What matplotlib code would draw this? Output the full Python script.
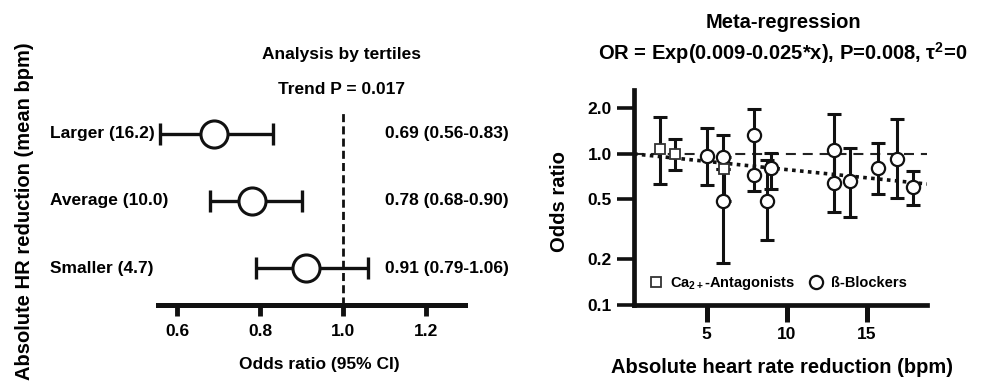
import numpy as np
import matplotlib

matplotlib.use("Agg")

import matplotlib.pyplot as plt
from matplotlib.lines import Line2D
from matplotlib import transforms

plt.rcParams["font.family"] = ["Liberation Sans", "DejaVu Sans"]
plt.rcParams["font.weight"] = "bold"
plt.rcParams["axes.labelweight"] = "bold"
plt.rcParams["mathtext.fontset"] = "custom"
plt.rcParams["mathtext.rm"] = "Liberation Sans:bold"
plt.rcParams["mathtext.it"] = "Liberation Sans:bold"
plt.rcParams["mathtext.bf"] = "Liberation Sans:bold"

# left panel: analysis by tertiles
tertile_labels = ["Larger (16.2)", "Average (10.0)", "Smaller (4.7)"]
tertile_or = [0.69, 0.78, 0.91]
tertile_lo = [0.56, 0.68, 0.79]
tertile_hi = [0.83, 0.90, 1.06]
tertile_pos = [3, 2, 1]
left_ticks = [0.6, 0.8, 1.0, 1.2]

# right panel: meta-regression
ca_x = [2.08, 3.02, 6.08]
ca_or = [1.07, 1.00, 0.79]
ca_lo = [0.63, 0.785, 0.485]
ca_hi = [1.74, 1.25, 0.95]

bb_x = [5.0, 6.0, 6.0, 7.96, 7.96, 8.75, 9.0, 12.96, 12.96, 13.96, 15.73, 16.87, 17.9]
bb_or = [0.96, 0.95, 0.485, 1.33, 0.72, 0.49, 0.80, 1.06, 0.64, 0.66, 0.805, 0.92, 0.60]
bb_lo = [0.62, 0.79, 0.19, 0.72, 0.57, 0.27, 0.585, 0.64, 0.41, 0.38, 0.545, 0.51, 0.455]
bb_hi = [1.48, 1.33, 0.79, 1.97, 1.33, 0.91, 1.01, 1.83, 1.06, 1.09, 1.18, 1.69, 0.77]

fit_b0 = 0.009
fit_b1 = -0.025
right_yticks = [0.1, 0.2, 0.5, 1.0, 2.0]
right_xticks = [5, 10, 15]

W, H = 982, 381
fig = plt.figure(figsize=(W / 100, H / 100), dpi=100)


def px_axes(left, top, right, bottom):
    return fig.add_axes([left / W, 1 - bottom / H, (right - left) / W, (bottom - top) / H])


# ---------------- left panel ----------------
ax1 = px_axes(158, 113, 465, 305)
ax1.set_xlim(0.554, 1.294)
ax1.set_ylim(0.448, 3.313)

ax1.axvline(1.0, color="#111111", lw=2.0, ls=(0, (2.9, 1.5)), zorder=1)

or_arr = np.array(tertile_or)
err = [or_arr - np.array(tertile_lo), np.array(tertile_hi) - or_arr]
ax1.errorbar(
    tertile_or, tertile_pos, xerr=err, fmt="none",
    ecolor="#111111", elinewidth=2.4, capsize=7.9, capthick=2.4, zorder=2,
)
ax1.plot(
    tertile_or, tertile_pos, "o", ms=19.5, mfc="white", mec="#111111",
    mew=2.2, ls="none", zorder=3,
)

for s in ["top", "right", "left"]:
    ax1.spines[s].set_visible(False)
ax1.spines["bottom"].set_linewidth(3.6)
ax1.spines["bottom"].set_color("#111111")
ax1.set_yticks([])
ax1.set_xticks(left_ticks)
ax1.set_xticklabels([f"{t:.1f}" for t in left_ticks])
ax1.tick_params(axis="x", direction="out", length=8, width=3.5, color="#111111",
                labelsize=12.5, pad=6)
ax1.set_xlabel("Odds ratio (95% CI)", fontsize=12.5)
ax1.xaxis.set_label_coords(0.524, -0.27)
ax1.xaxis.label.set_va("top")

row_tf = transforms.blended_transform_factory(fig.transFigure, ax1.transData)
for lab, o, lo, hi, y in zip(tertile_labels, tertile_or, tertile_lo, tertile_hi, tertile_pos):
    ax1.text(50 / W, y, lab, transform=row_tf, ha="left", va="center", fontsize=12.5)
    ax1.text(385 / W, y, f"{o:.2f} ({lo:.2f}-{hi:.2f})", transform=row_tf,
             ha="left", va="center", fontsize=12.5)

fig.text(342 / W, 1 - 55 / H, "Analysis by tertiles", ha="center", va="center", fontsize=12.5)
fig.text(342 / W, 1 - 89 / H, "Trend P = 0.017", ha="center", va="center", fontsize=12.5)
fig.text(25 / W, 1 - 211 / H, "Absolute HR reduction (mean bpm)", rotation=90,
         ha="center", va="center", fontsize=14.5)

# ---------------- right panel ----------------
ax2 = px_axes(634, 90, 927, 305)
ax2.set_yscale("log")
ax2.set_xlim(0.45, 18.77)
ax2.set_ylim(0.1, 2.64)

ax2.axhline(1.0, color="#222222", lw=1.5, ls=(0, (4.8, 3.3)), zorder=1)
x_fit = np.array(ax2.get_xlim())
ax2.plot(x_fit, np.exp(fit_b0 + fit_b1 * x_fit), color="#111111", lw=2.6,
         ls=(0, (1, 1.2)), zorder=1)

for xs, ors, los, his in [(ca_x, ca_or, ca_lo, ca_hi), (bb_x, bb_or, bb_lo, bb_hi)]:
    o = np.array(ors)
    ax2.errorbar(xs, ors, yerr=[o - np.array(los), np.array(his) - o], fmt="none",
                 ecolor="#111111", elinewidth=2.2, capsize=4.7, capthick=2.2, zorder=2)

ax2.plot(bb_x, bb_or, "o", ms=9.5, mfc="white", mec="#111111", mew=1.6, ls="none", zorder=3)
ax2.plot(ca_x, ca_or, "s", ms=7.2, mfc="white", mec="#333333", mew=1.3, ls="none", zorder=4)

for s in ["top", "right"]:
    ax2.spines[s].set_visible(False)
for s in ["left", "bottom"]:
    ax2.spines[s].set_linewidth(3.4)
    ax2.spines[s].set_color("#111111")

ax2.set_yticks(right_yticks)
ax2.set_yticklabels([f"{t:.1f}" for t in right_yticks])
ax2.yaxis.set_minor_locator(matplotlib.ticker.NullLocator())
ax2.set_xticks(right_xticks)
ax2.tick_params(axis="y", direction="out", length=12, width=2.6, color="#111111",
                labelsize=12.5, pad=4)
ax2.tick_params(axis="x", direction="out", length=12, width=3.6, color="#111111",
                labelsize=12.5, pad=4)

ax2.set_xlabel("Absolute heart rate reduction (bpm)", fontsize=14.5)
ax2.xaxis.set_label_coords(0.505, -0.245)
ax2.xaxis.label.set_va("top")
ax2.set_ylabel("Odds ratio", fontsize=14.5)
ax2.yaxis.set_label_coords(-0.222, 0.479)

handles = [
    Line2D([0], [0], marker="s", ms=7.2, mfc="white", mec="#333333", mew=1.3, ls="none"),
    Line2D([0], [0], marker="o", ms=9.5, mfc="white", mec="#111111", mew=1.6, ls="none"),
]
ax2.legend(handles, [r"Ca$_{2+}$-Antagonists", "ß-Blockers"], loc="lower left",
           bbox_to_anchor=(0.02, 0.02), ncol=2, frameon=False, fontsize=10.5,
           handlelength=1.0, handletextpad=0.5, columnspacing=0.9, borderaxespad=0.2)

fig.text(783 / W, 1 - 22 / H, "Meta-regression", ha="center", va="center", fontsize=14.5)
fig.text(783 / W, 1 - 53 / H, "OR = Exp(0.009-0.025*x), P=0.008, τ$^{2}$=0",
         ha="center", va="center", fontsize=14.5)

fig.savefig("out.png", dpi=100)
